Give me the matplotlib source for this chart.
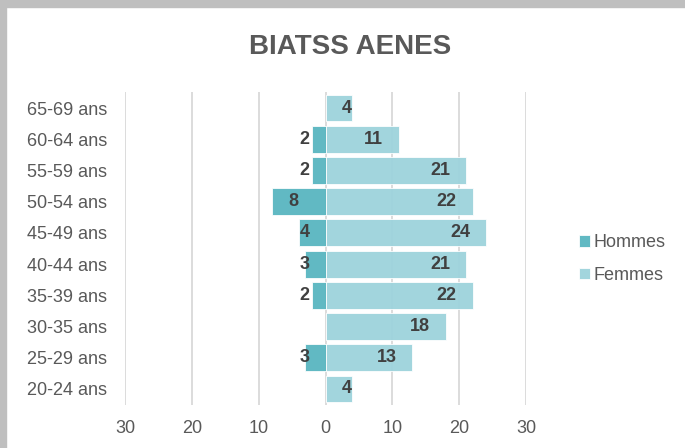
import matplotlib
matplotlib.use('Agg')
import matplotlib.pyplot as plt
from matplotlib.patches import Rectangle

# ── Data ──────────────────────────────────────────────────────────────────────
ages    = ['20-24 ans', '25-29 ans', '30-35 ans', '35-39 ans', '40-44 ans',
           '45-49 ans', '50-54 ans', '55-59 ans', '60-64 ans', '65-69 ans']
hommes  = [0, 3, 0, 2, 3, 4, 8, 2, 2, 0]
femmes  = [4, 13, 18, 22, 21, 24, 22, 21, 11, 4]
xticks  = [-30, -20, -10, 0, 10, 20, 30]
xlabels = ['30', '20', '10', '0', '10', '20', '30']

C_H = '#58B5C0'
C_F = '#9DD3DC'
TXT = '#595959'
LBL = '#404040'

plt.rcParams['font.family'] = ['Liberation Sans', 'DejaVu Sans']

fig = plt.figure(figsize=(6.85, 4.48), dpi=100)
ax = fig.add_axes([125/685, 1 - 404.6/448, 401/685, 312.2/448])

y = list(range(len(ages)))
ax.barh(y, [-v for v in hommes], height=0.86, color=C_H, alpha=0.95,
        edgecolor='white', linewidth=0.6, zorder=2, label='Hommes')
ax.barh(y, femmes, height=0.86, color=C_F, alpha=0.95,
        edgecolor='white', linewidth=0.6, zorder=2, label='Femmes')

for xv in xticks:
    ax.axvline(xv, color='#d9d9d9', lw=1.3, zorder=1)

# data labels (Excel-like "inside end" placement)
for yi, v in zip(y, hommes):
    if v == 0:
        continue
    if v >= 6:
        ax.annotate(str(v), (-v, yi), xytext=(11.5, 0), textcoords='offset points',
                    ha='left', va='center', fontsize=13, fontweight='bold',
                    color=LBL, zorder=3)
    else:
        ax.annotate(str(v), (0, yi), xytext=(-11.5, 0), textcoords='offset points',
                    ha='right', va='center', fontsize=13, fontweight='bold',
                    color=LBL, zorder=3)
for yi, v in zip(y, femmes):
    off = -11.5 if v >= 8 else -0.5
    ax.annotate(str(v), (v, yi), xytext=(off, 0), textcoords='offset points',
                ha='right', va='center', fontsize=13, fontweight='bold',
                color=LBL, zorder=3)

ax.set_xlim(-30, 30)
ax.set_ylim(-0.5, len(ages) - 0.5)
ax.set_xticks(xticks)
ax.set_xticklabels(xlabels)
ax.set_yticks(y)
ax.set_yticklabels(ages)
ax.tick_params(axis='both', length=0, labelsize=13, labelcolor=TXT)
ax.tick_params(axis='x', pad=11)
ax.tick_params(axis='y', pad=13)
for sp in ax.spines.values():
    sp.set_visible(False)

fig.text(350/685, 1 - 47/448, 'BIATSS AENES', ha='center', va='center',
         fontsize=20, fontweight='bold', color=TXT)

fig.legend(loc='center left', bbox_to_anchor=(563/685, 1 - 259/448),
           frameon=False, fontsize=13, handlelength=0.6, handleheight=0.6,
           handletextpad=0.2, labelspacing=0.85, labelcolor=TXT)

# grey frame on top and left edges
fig.patches.append(Rectangle((0, 1 - 7/448), 1, 7/448, transform=fig.transFigure,
                             color='#bfbfbf', zorder=0))
fig.patches.append(Rectangle((0, 0), 6/685, 1, transform=fig.transFigure,
                             color='#bfbfbf', zorder=0))

fig.savefig('out.png', dpi=100)
